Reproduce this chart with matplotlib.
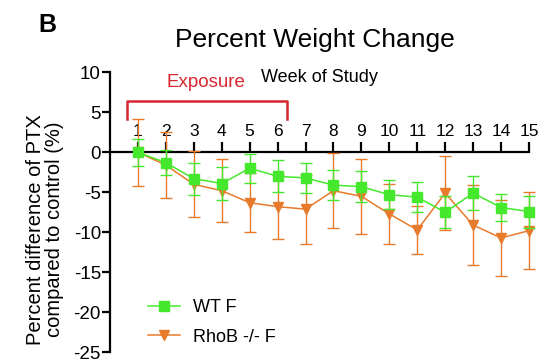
import matplotlib.pyplot as plt
from matplotlib.lines import Line2D

plt.rcParams['font.family'] = ['Liberation Sans', 'DejaVu Sans']

# weekly percent weight difference vs control (mean +/- error)
weeks = list(range(1, 16))
wt_mean = [0, -1.3, -3.3, -3.9, -2.0, -3.0, -3.2, -4.1, -4.3, -5.3, -5.6, -7.5, -5.1, -6.9, -7.4]
wt_err = [1.7, 1.6, 2.0, 2.0, 1.8, 2.0, 1.9, 1.9, 1.9, 1.8, 1.9, 2.0, 2.1, 1.7, 2.0]
rhob_mean = [0, -1.6, -4.0, -4.8, -6.3, -6.8, -7.1, -4.8, -5.5, -7.7, -9.7, -5.1, -9.1, -10.7, -9.8]
rhob_err = [4.2, 4.1, 4.1, 3.9, 3.7, 4.0, 4.3, 4.7, 4.7, 3.7, 3.0, 4.6, 5.0, 4.8, 4.8]
exposure_weeks = (0.62, 6.33)
y_ticks = [10, 5, 0, -5, -10, -15, -20, -25]

GREEN = "#45e82c"
ORANGE = "#e87a2c"
RED = "#d8262e"

fig = plt.figure(figsize=(5.44, 3.64), dpi=100)
ax = fig.add_axes([0.2022, 0.0321, 0.7702, 0.7693])

ax.errorbar(weeks, rhob_mean, yerr=rhob_err, color=ORANGE, marker="v", markersize=7.5,
            lw=1.1, elinewidth=1.0, capsize=4.3, capthick=1.0,
            clip_on=False, zorder=3)
ax.errorbar(weeks, wt_mean, yerr=wt_err, color=GREEN, marker="s", markersize=7,
            lw=1.1, elinewidth=1.0, capsize=4.3, capthick=1.0,
            clip_on=False, zorder=4)

ax.set_xlim(0, 15)
ax.set_ylim(-25, 10)

# x axis sits on y=0 with ticks and labels above it
ax.spines["top"].set_position(("data", 0))
ax.spines["bottom"].set_visible(False)
ax.spines["right"].set_visible(False)
for s in ("top", "left"):
    ax.spines[s].set_linewidth(1.6)
ax.xaxis.set_ticks_position("top")
ax.set_xticks(weeks)
ax.tick_params(axis="x", direction="out", length=7.5, width=1.6, pad=2, labelsize=12.5)
ax.set_yticks(y_ticks)
ax.set_yticklabels([str(v) for v in y_ticks])
ax.tick_params(axis="y", direction="out", length=5.5, width=1.6, pad=1, labelsize=13.5)

# exposure bracket
x0, x1 = exposure_weeks
ax.plot([x0, x0, x1, x1], [4.2, 6.4, 6.4, 4.2], color=RED, lw=1.8, clip_on=False)
ax.text(3.45, 8.7, "Exposure", color=RED, fontsize=13.5, ha="center", va="center")
ax.text(7.5, 9.35, "Week of Study", color="black", fontsize=13, ha="center", va="center")

handles = [
    Line2D([], [], color=GREEN, marker="s", markersize=7, lw=1.1),
    Line2D([], [], color=ORANGE, marker="v", markersize=7.5, lw=1.1),
]
ax.legend(handles, ["WT F", "RhoB -/- F"], loc="center left", bbox_to_anchor=(0.091, 0.106),
          frameon=False, fontsize=13, handlelength=1.75, handletextpad=0.75,
          labelspacing=0.68, borderpad=0, borderaxespad=0)

fig.text(0.083, 0.37, "Percent difference of PTX\ncompared to control (%)",
         rotation=90, ha="center", va="center", fontsize=14.5, linespacing=1.0)
fig.text(0.579, 0.871, "Percent Weight Change", fontsize=19, ha="center", va="baseline")
fig.text(0.070, 0.912, "B", fontsize=18, fontweight="bold", ha="left", va="baseline")

fig.savefig("out.png", dpi=100)
